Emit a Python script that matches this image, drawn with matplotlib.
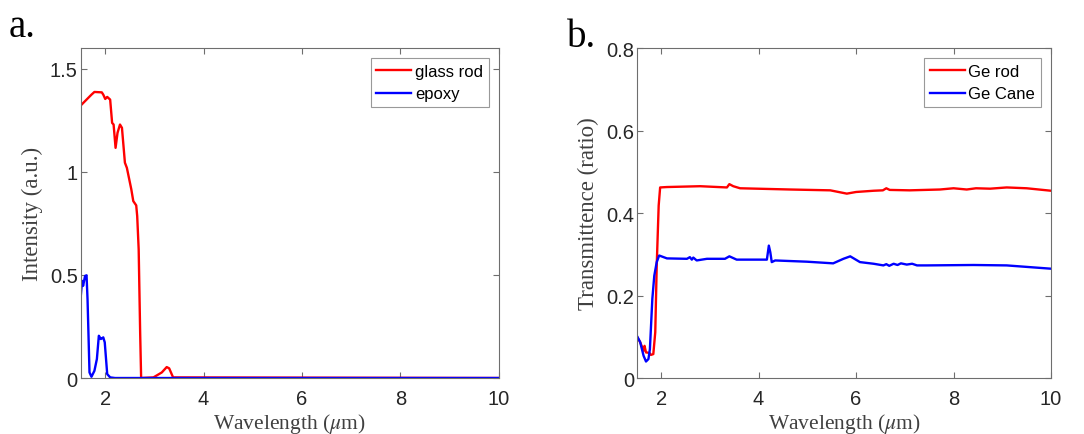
import matplotlib
matplotlib.use("Agg")
import matplotlib.pyplot as plt

# panel a: glass rod vs epoxy intensity
rod_wl = [1.5, 1.72, 1.78, 1.93, 1.96, 2.0, 2.04, 2.10, 2.14, 2.17, 2.21, 2.25, 2.30,
          2.34, 2.40, 2.44, 2.53, 2.57, 2.63, 2.65, 2.68, 2.71, 2.73, 2.98, 3.15,
          3.25, 3.30, 3.38, 10.0]
rod_int = [1.321, 1.374, 1.387, 1.385, 1.374, 1.353, 1.363, 1.35, 1.237, 1.229, 1.116,
           1.189, 1.229, 1.213, 1.044, 1.019, 0.915, 0.858, 0.837, 0.785, 0.624, 0.221,
           0.0, 0.003, 0.027, 0.053, 0.047, 0.003, 0.0]

epoxy_wl = [1.5, 1.53, 1.55, 1.59, 1.62, 1.64, 1.68, 1.72, 1.78, 1.83, 1.87, 1.91,
            1.93, 1.96, 1.99, 2.04, 2.10, 2.2, 10.0]
epoxy_int = [0.39, 0.471, 0.447, 0.495, 0.498, 0.382, 0.027, 0.006, 0.035, 0.092,
             0.205, 0.189, 0.192, 0.197, 0.173, 0.019, 0.003, 0.0, 0.0]

# panel b: transmittance
ge_rod_wl = [1.5, 1.57, 1.64, 1.66, 1.69, 1.76, 1.79, 1.84, 1.88, 1.91, 1.95, 1.98,
             2.12, 2.80, 3.35, 3.40, 3.48, 3.62, 4.65, 5.47, 5.81, 6.0, 6.36, 6.55,
             6.62, 6.69, 7.1, 7.72, 8.0, 8.27, 8.46, 8.75, 9.09, 9.5, 10.0]
ge_rod_t = [0.101, 0.087, 0.066, 0.078, 0.062, 0.061, 0.056, 0.058, 0.111, 0.273,
            0.418, 0.462, 0.463, 0.465, 0.462, 0.470, 0.465, 0.46, 0.457, 0.455,
            0.447, 0.451, 0.454, 0.455, 0.46, 0.456, 0.455, 0.457, 0.460, 0.457,
            0.460, 0.459, 0.462, 0.460, 0.454]

ge_cane_wl = [1.5, 1.57, 1.64, 1.69, 1.74, 1.77, 1.82, 1.86, 1.91, 1.96, 2.12, 2.53,
              2.59, 2.63, 2.66, 2.73, 2.94, 3.31, 3.40, 3.55, 4.17, 4.21, 4.24, 4.27,
              4.34, 4.99, 5.53, 5.74, 5.88, 6.08, 6.36, 6.56, 6.62, 6.68, 6.77, 6.85,
              6.92, 7.04, 7.15, 7.25, 7.45, 8.41, 9.09, 10.0]
ge_cane_t = [0.103, 0.087, 0.054, 0.04, 0.046, 0.07, 0.192, 0.248, 0.281, 0.297, 0.29,
             0.289, 0.293, 0.287, 0.292, 0.285, 0.289, 0.289, 0.295, 0.287, 0.287,
             0.321, 0.305, 0.281, 0.285, 0.282, 0.278, 0.289, 0.295, 0.281, 0.277,
             0.273, 0.276, 0.272, 0.277, 0.274, 0.278, 0.275, 0.277, 0.273, 0.273,
             0.274, 0.273, 0.265]

plt.rcParams['mathtext.fontset'] = 'stix'
sans = 'Liberation Sans'
serif = 'Liberation Serif'
edge = '#6e6e6e'
tickc = '#262626'

fig = plt.figure(figsize=(10.84, 4.35), dpi=100)
axA = fig.add_axes([0.0744, 0.1287, 0.3856, 0.7586])
axB = fig.add_axes([0.5874, 0.1287, 0.3822, 0.7586])


def style(ax, yticks, ylabels, ylim):
    ax.set_xlim(1.5, 10)
    ax.set_ylim(*ylim)
    ax.set_xticks([2, 4, 6, 8, 10])
    ax.set_yticks(yticks)
    ax.set_yticklabels(ylabels)
    ax.tick_params(direction='in', length=4, width=0.8, top=True, right=True,
                   colors=edge, labelcolor=tickc, labelsize=14.5)
    ax.tick_params(axis='x', pad=8)
    ax.tick_params(axis='y', pad=2)
    for lab in ax.get_xticklabels() + ax.get_yticklabels():
        lab.set_family(sans)
    for s in ax.spines.values():
        s.set_color(edge)
        s.set_linewidth(0.8)
    ax.set_xlabel(r'Wavelength ($\mu$m)', family=serif, fontsize=15.5, color='#404040',
                  labelpad=2)


axA.plot(rod_wl, rod_int, color='red', lw=1.7, label='glass rod')
axA.plot(epoxy_wl, epoxy_int, color='blue', lw=1.7, label='epoxy')
style(axA, [0, 0.5, 1, 1.5], ['0', '0.5', '1', '1.5'], (0, 1.6))
axA.set_ylabel('Intensity (a.u.)', family=serif, fontsize=16.5, color='#404040', labelpad=5)

axB.plot(ge_rod_wl, ge_rod_t, color='red', lw=1.7, label='Ge rod')
axB.plot(ge_cane_wl, ge_cane_t, color='blue', lw=1.7, label='Ge Cane')
style(axB, [0, 0.2, 0.4, 0.6, 0.8], ['0', '0.2', '0.4', '0.6', '0.8'], (0, 0.8))
axB.set_ylabel('Transmittence (ratio)', family=serif, fontsize=16.5, color='#404040', labelpad=5)

for ax in (axA, axB):
    leg = ax.legend(loc='upper right', prop={'family': sans, 'size': 12}, fancybox=False,
                    framealpha=1, edgecolor='#999999', handlelength=2.1, handletextpad=0.2,
                    borderpad=0.35, labelspacing=0.45, borderaxespad=0.6)
    leg.get_frame().set_linewidth(0.8)

fig.text(0.008, 0.915, 'a.', family=serif, fontsize=28)
fig.text(0.523, 0.893, 'b.', family=serif, fontsize=28)

fig.savefig('out.png', dpi=100)
